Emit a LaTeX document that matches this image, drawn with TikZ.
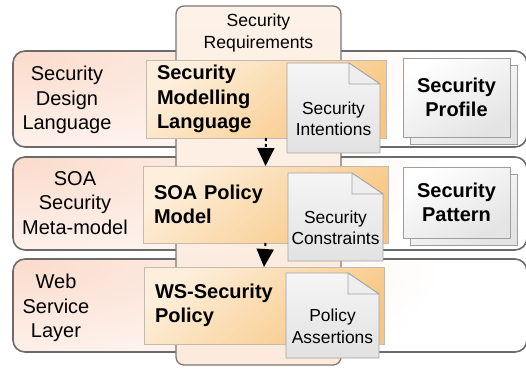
\documentclass[tikz,border=0pt]{standalone}
\usepackage{fontspec}
\setmainfont{Liberation Sans}
\usetikzlibrary{arrows.meta}

\definecolor{layerpink}{HTML}{FBDCCD}
\definecolor{layerline}{HTML}{6B6B6B}
\definecolor{colfill}{HTML}{FCEADC}
\definecolor{coltop}{HTML}{FDF2E8}
\definecolor{colline}{HTML}{787878}
\definecolor{olight}{HTML}{FDEFDC}
\definecolor{odark}{HTML}{F8C680}
\definecolor{oline}{HTML}{C4BAB0}
\definecolor{doctop}{HTML}{F5F5F5}
\definecolor{docbot}{HTML}{E2E2E2}
\definecolor{docline}{HTML}{A3A3A3}
\definecolor{foldfill}{HTML}{EEEEEE}
\definecolor{stkbot}{HTML}{E4E4E4}
\definecolor{stkline}{HTML}{9E9E9E}

\begin{document}
\begin{tikzpicture}[x=1pt,y=-1pt,
  every node/.style={outer sep=0pt},
  layer/.style={anchor=north west, inner sep=0pt},
  layerline/.style={draw=layerline, line width=1.6pt, rounded corners=12pt},
  lbl/.style={align=center, font=\fontsize{20}{24.5}\selectfont},
  column/.style={draw=colline, line width=1.3pt, rounded corners=8pt,
    top color=coltop, bottom color=colfill, anchor=north west},
  req/.style={align=center, font=\fontsize{17.6}{22}\selectfont},
  obox/.style={draw=oline, line width=0.8pt, top color=olight, bottom color=odark,
    shading angle=40, anchor=north west, inner xsep=11pt, align=left,
    font=\fontsize{20}{24.5}\selectfont\bfseries},
  docbox/.style={anchor=north west, inner sep=0pt},
  docfill/.style={draw=docline, line width=0.8pt, top color=doctop, bottom color=docbot},
  foldstyle/.style={draw=docline, line width=0.8pt, fill=foldfill, line join=round},
  dtext/.style={align=center, font=\fontsize{17.4}{21.5}\selectfont},
  stk/.style={draw=stkline, line width=0.8pt, top color=white, bottom color=stkbot,
    shading angle=30, anchor=north west, align=center,
    font=\fontsize{20}{24.5}\selectfont\bfseries},
  flow/.style={line width=2pt, dash pattern=on 3pt off 3pt,
    -{Triangle[length=18pt,width=17pt]}}
]
\useasboundingbox (0,0) rectangle (526,369);

% a layer band: soft glow from its upper left corner, then the outline
\newcommand{\layerband}[1]{%
  \begin{scope}
    \clip[rounded corners=12pt] (#1.north west) rectangle (#1.south east);
    \fill[white] (#1.north west) rectangle (#1.south east);
    \shade[inner color=layerpink, outer color=white]
      ([xshift=10pt,yshift=-4pt]#1.north west) ellipse (420pt and 150pt);
  \end{scope}
  \draw[layerline] (#1.north west) rectangle (#1.south east);}

% three horizontal layers
\node[layer, minimum width=514pt, minimum height=96pt] (L1) at (13,51) {};
\layerband{L1}
\node[layer, minimum width=514pt, minimum height=93pt] (L2) at (13,157) {};
\layerband{L2}
\node[layer, minimum width=514pt, minimum height=93pt] (L3) at (13,259) {};
\layerband{L3}

\node[lbl] (n1) at (67,100) {Security\\Design\\Language};
\node[lbl] (n2) at (75,203) {SOA\\Security\\Meta-model};
\node[lbl] (n3) at (56,308) {Web\\Service\\Layer};

% vertical requirements column
\node[column, minimum width=165pt, minimum height=359pt] (col) at (176,6) {};
\node[req] (reqtxt) at (258.5,33) {Security\\Requirements};

% model boxes
\node[obox, minimum width=240pt, minimum height=78pt, text width=218pt] (b1) at (146,60)
  {Security\\Modelling\\Language};
\node[obox, minimum width=245pt, minimum height=77pt, text width=223pt] (b2) at (143,166)
  {SOA Policy\\Model};
\node[obox, minimum width=240pt, minimum height=77pt, text width=218pt] (b3) at (144,267)
  {WS-Security\\Policy};

% refinement arrows
\draw[flow] (b1.south) -- (b2.north);
\draw[flow] (b2.south) -- (b3.north);

% folded documents
\newcommand{\foldeddoc}[1]{%
  \shade[docfill] (#1.north west) -- ([xshift=-31pt]#1.north east)
    -- ([yshift=-21pt]#1.north east) -- (#1.south east) -- (#1.south west) -- cycle;
  \filldraw[foldstyle] ([xshift=-31pt]#1.north east)
    -- ([xshift=-31pt,yshift=-21pt]#1.north east) -- ([yshift=-21pt]#1.north east) -- cycle;}

\node[docbox, minimum width=93pt, minimum height=90pt] (d1) at (287,63) {};
\foldeddoc{d1}
\node[dtext] (t1) at ([yshift=-11pt]d1.center) {Security\\Intentions};

\node[docbox, minimum width=95pt, minimum height=88pt] (d2) at (288,173) {};
\foldeddoc{d2}
\node[dtext] (t2) at ([yshift=-11pt]d2.center) {Security\\Constraints};

\node[docbox, minimum width=93pt, minimum height=85pt] (d3) at (286,273) {};
\foldeddoc{d3}
\node[dtext] (t3) at ([yshift=-11pt]d3.center) {Policy\\Assertions};

% stacked artefacts
\node[stk, minimum width=107pt, minimum height=79pt] (p1b) at (410,65) {};
\node[stk, minimum width=107pt, minimum height=79pt] (p1) at (403,58) {Security\\Profile};
\node[stk, minimum width=107pt, minimum height=71pt] (p2b) at (410,174) {};
\node[stk, minimum width=107pt, minimum height=71pt] (p2) at (403,167) {Security\\Pattern};
\end{tikzpicture}
\end{document}
